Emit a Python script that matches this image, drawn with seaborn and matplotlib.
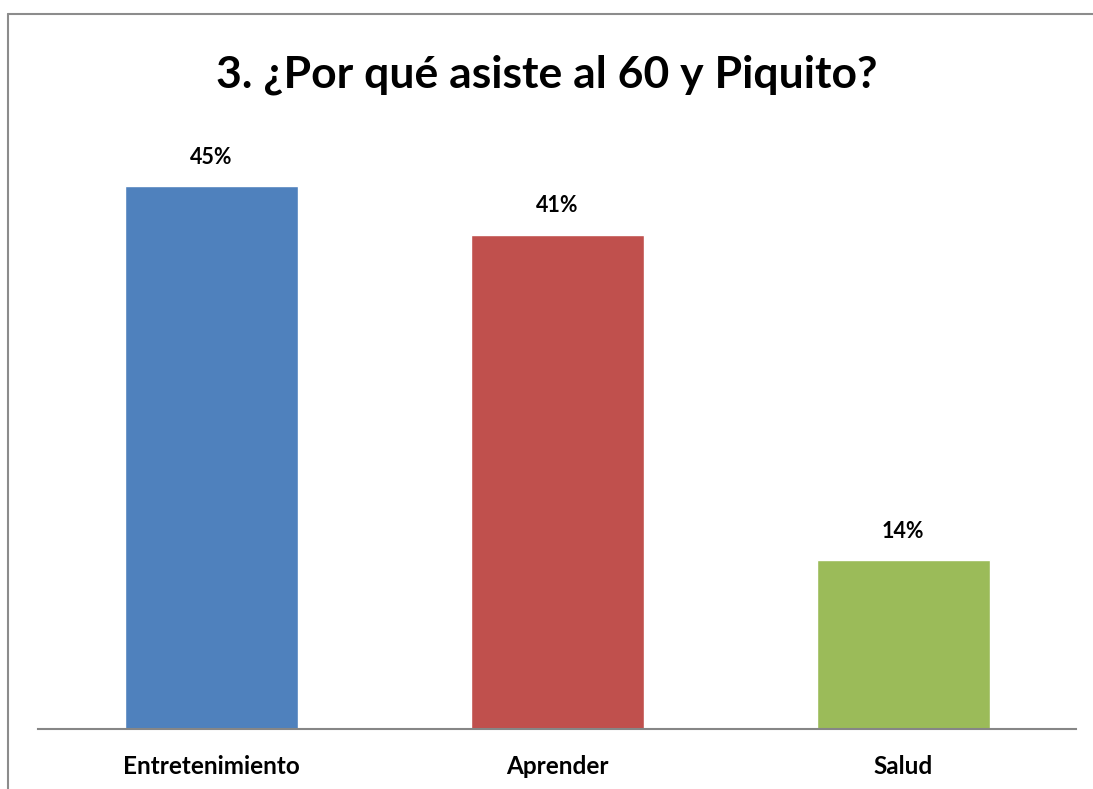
import matplotlib
matplotlib.use('Agg')
import matplotlib.pyplot as plt
import seaborn as sns
import pandas as pd

# data
categories = ['Entretenimiento', 'Aprender', 'Salud']
shares = [0.45, 0.41, 0.14]
bar_colors = ['#4F81BD', '#C0504D', '#9BBB59']

df = pd.DataFrame({'Motivo': categories, 'Porcentaje': shares})

sns.set_style('white')
plt.rcParams['font.family'] = ['Lato', 'DejaVu Sans']
plt.rcParams['text.color'] = 'black'
plt.rcParams['xtick.color'] = 'black'

fig = plt.figure(figsize=(10.93, 7.89), dpi=100)
ax = fig.add_axes([38/1093, 1 - 729/789, (1076 - 38)/1093, (729 - 126)/789])

sns.barplot(data=df, x='Motivo', y='Porcentaje', hue='Motivo', palette=bar_colors,
            width=0.5, legend=False, saturation=1, ax=ax)

ax.set_xlim(-0.5, 2.5)
ax.set_ylim(0, 0.5)
ax.set_xlabel('')
ax.set_ylabel('')
ax.set_yticks([])
ax.tick_params(axis='x', length=0, pad=19)
for lbl in ax.get_xticklabels():
    lbl.set_fontsize(17.5)
    lbl.set_fontweight('bold')
    lbl.set_color('black')

for side in ['left', 'right', 'top']:
    ax.spines[side].set_visible(False)
ax.spines['bottom'].set_color('#868686')
ax.spines['bottom'].set_linewidth(1.5)

for c in ax.containers:
    ax.bar_label(c, labels=[f'{v:.0%}' for v in c.datavalues], padding=13,
                 fontsize=15.5, fontweight='bold', color='black')

# chart frame (cropped on the right and bottom)
fig.add_artist(plt.Line2D([8/1093, 8/1093], [0, 1 - 14/789], transform=fig.transFigure,
                          color='#8c8c8c', linewidth=1.5))
fig.add_artist(plt.Line2D([8/1093, 1], [1 - 14/789, 1 - 14/789], transform=fig.transFigure,
                          color='#8c8c8c', linewidth=1.5))

fig.text(0.5, 1 - 75/789, '3. ¿Por qué asiste al 60 y Piquito?', ha='center', va='center',
         fontsize=32, fontweight='bold', color='black')

fig.savefig('out.png', dpi=100)
